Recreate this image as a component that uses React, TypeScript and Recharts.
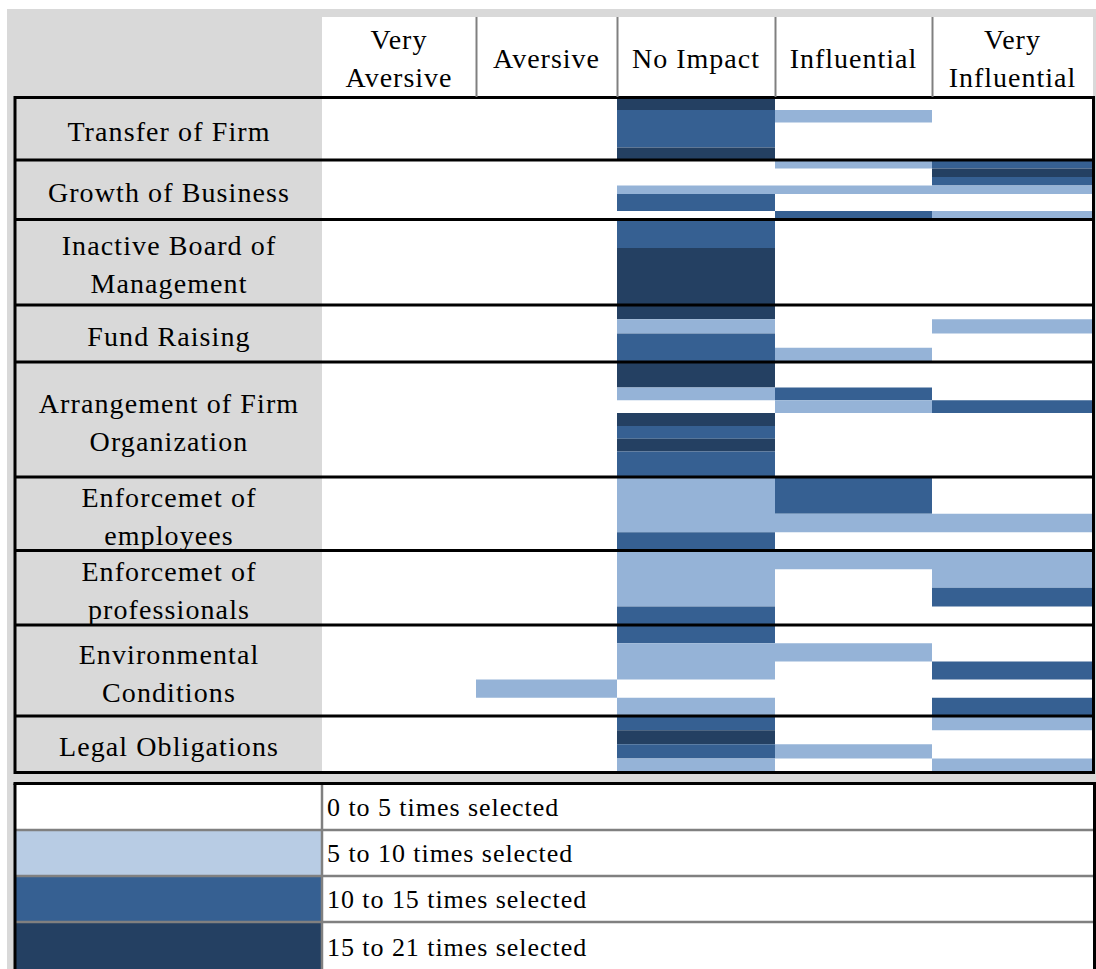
import React from 'react';
import { ComposedChart, XAxis, YAxis, ReferenceArea, ReferenceLine } from 'recharts';

// ---------------- data ----------------
const RATINGS = ['Very Aversive', 'Aversive', 'No Impact', 'Influential', 'Very Influential'];
const FACTORS = [
  'Transfer of Firm',
  'Growth of Business',
  'Inactive Board of Management',
  'Fund Raising',
  'Arrangement of Firm Organization',
  'Enforcemet of employees',
  'Enforcemet of professionals',
  'Environmental Conditions',
  'Legal Obligations',
];
const LEGEND_LABELS = [
  '0 to 5 times selected',
  '5 to 10 times selected',
  '10 to 15 times selected',
  '15 to 21 times selected',
];

// Selection class per item (sub-row) and rating column:
// 0 = 0-5, 1 = 5-10, 2 = 10-15, 3 = 15-21 times selected
const transferOfFirm = [
  [0, 0, 3, 0, 0],
  [0, 0, 2, 1, 0],
  [0, 0, 2, 0, 0],
  [0, 0, 2, 0, 0],
  [0, 0, 3, 0, 0],
];
const growthOfBusiness = [
  [0, 0, 0, 1, 2],
  [0, 0, 0, 0, 3],
  [0, 0, 0, 0, 2],
  [0, 0, 1, 1, 1],
  [0, 0, 2, 0, 0],
  [0, 0, 2, 0, 0],
  [0, 0, 0, 2, 1],
];
const inactiveBoard = [
  [0, 0, 2, 0, 0],
  [0, 0, 3, 0, 0],
  [0, 0, 3, 0, 0],
];
const fundRaising = [
  [0, 0, 3, 0, 0],
  [0, 0, 1, 0, 1],
  [0, 0, 2, 0, 0],
  [0, 0, 2, 1, 0],
];
const arrangementOfFirm = [
  [0, 0, 3, 0, 0],
  [0, 0, 3, 0, 0],
  [0, 0, 1, 2, 0],
  [0, 0, 0, 1, 2],
  [0, 0, 3, 0, 0],
  [0, 0, 2, 0, 0],
  [0, 0, 3, 0, 0],
  [0, 0, 2, 0, 0],
  [0, 0, 2, 0, 0],
];
const enforcementEmployees = [
  [0, 0, 1, 2, 0],
  [0, 0, 1, 2, 0],
  [0, 0, 1, 1, 1],
  [0, 0, 2, 0, 0],
];
const enforcementProfessionals = [
  [0, 0, 1, 1, 1],
  [0, 0, 1, 0, 1],
  [0, 0, 1, 0, 2],
  [0, 0, 2, 0, 0],
];
const environmentalConditions = [
  [0, 0, 2, 0, 0],
  [0, 0, 1, 1, 0],
  [0, 0, 1, 0, 2],
  [0, 1, 0, 0, 0],
  [0, 0, 1, 0, 2],
];
const legalObligations = [
  [0, 0, 2, 0, 1],
  [0, 0, 3, 0, 0],
  [0, 0, 2, 1, 0],
  [0, 0, 1, 0, 1],
];
const FACTOR_LEVELS = [
  transferOfFirm,
  growthOfBusiness,
  inactiveBoard,
  fundRaising,
  arrangementOfFirm,
  enforcementEmployees,
  enforcementProfessionals,
  environmentalConditions,
  legalObligations,
];

// ---------------- style / layout ----------------
const W = 1096;
const H = 969;
const COLORS = ['#ffffff', '#95b3d7', '#366092', '#244062'];
const LEGEND_COLORS = ['#ffffff', '#b8cce4', '#366092', '#244062'];
const BG_GRAY = '#d9d9d9';
const LINE_GRAY = '#808080';
const FONT = "'Liberation Serif', 'Times New Roman', serif";

const BG_ORIGIN = { x: 7, y: 9 };
const LABEL_COL = [16, 322];
const COL_EDGES = [322, 476, 617, 775, 932, 1093];
const HEADER_Y = [17, 97];
const GROUP_EDGES = [97.5, 160, 219.5, 305, 362, 477, 550.5, 625, 716, 772.5];
const TABLE_X = [15, 1093.5];
const LEGEND_TOP = 783.5;
const LEGEND_ROW_EDGES = [785, 830, 876, 922, 972];
const LEGEND_SPLIT = 322;
const LEGEND_X = [15, 1094.5];

const wrap = (s: string, maxChars: number) => {
  const words = s.split(' ');
  const lines: string[] = [];
  let cur = '';
  words.forEach((w) => {
    const next = cur ? cur + ' ' + w : w;
    if (next.length > maxChars && cur) {
      lines.push(cur);
      cur = w;
    } else cur = next;
  });
  if (cur) lines.push(cur);
  return lines;
};

type LabelOpts = {
  fontSize: number;
  lineGap: number;
  anchor: 'middle' | 'start';
  baseline: number;
  dx?: number;
  ls?: number;
};

const makeLabel = (lines: string[], o: LabelOpts) => (props: any) => {
  const vb = props.viewBox || { x: 0, y: 0, width: 0, height: 0 };
  const cx = o.anchor === 'middle' ? vb.x + vb.width / 2 : vb.x + (o.dx || 0);
  const cy = vb.y + vb.height / 2 + o.baseline;
  const n = lines.length;
  return (
    <text
      x={cx}
      y={cy}
      textAnchor={o.anchor}
      fontFamily={FONT}
      fontSize={o.fontSize}
      letterSpacing={o.ls || 0}
      fill="#000"
    >
      {lines.map((l, i) => (
        <tspan key={i} x={cx} y={cy + (i - (n - 1) / 2) * o.lineGap}>
          {l}
        </tspan>
      ))}
    </text>
  );
};

// merge consecutive sub-rows of equal class within one column into runs
const runsOf = (rows: number[][], col: number) => {
  const runs: { start: number; end: number; level: number }[] = [];
  rows.forEach((levels, r) => {
    const lv = levels[col];
    const last = runs[runs.length - 1];
    if (last && last.level === lv && last.end === r) last.end = r + 1;
    else runs.push({ start: r, end: r + 1, level: lv });
  });
  return runs.filter((x) => x.level > 0);
};

export default function App() {
  const cells: React.ReactNode[] = [];
  FACTOR_LEVELS.forEach((rows, g) => {
    const top = GROUP_EDGES[g];
    const bottom = GROUP_EDGES[g + 1];
    const h = (bottom - top) / rows.length;
    RATINGS.forEach((_, c) => {
      runsOf(rows, c).forEach((run, k) => {
        cells.push(
          <ReferenceArea
            key={`c-${g}-${c}-${k}`}
            x1={COL_EDGES[c]}
            x2={COL_EDGES[c + 1]}
            y1={top + run.start * h}
            y2={top + run.end * h}
            fill={COLORS[run.level]}
            fillOpacity={1}
            stroke="none"
            ifOverflow="visible"
          />
        );
      });
    });
  });

  return (
    <div style={{ position: 'absolute', left: 0, top: 0, width: W, height: H, background: '#fff' }}>
      <ComposedChart width={W} height={H} data={[]} margin={{ top: 0, right: 0, bottom: 0, left: 0 }}>
        <XAxis type="number" dataKey="x" domain={[0, W]} hide allowDataOverflow />
        <YAxis type="number" dataKey="y" domain={[0, H]} reversed hide allowDataOverflow />

        {/* gray page background */}
        <ReferenceArea x1={BG_ORIGIN.x} x2={W} y1={BG_ORIGIN.y} y2={H} fill={BG_GRAY} fillOpacity={1} stroke="none" ifOverflow="visible" />

        {/* header cells */}
        {RATINGS.map((r, i) => (
          <ReferenceArea
            key={`h-${i}`}
            x1={COL_EDGES[i]}
            x2={COL_EDGES[i + 1]}
            y1={HEADER_Y[0]}
            y2={HEADER_Y[1]}
            fill="#ffffff"
            fillOpacity={1}
            stroke="none"
            ifOverflow="visible"
            label={makeLabel(wrap(r, 11), { fontSize: 28, lineGap: 37.5, anchor: 'middle', baseline: 11, ls: 1.0 })}
          />
        ))}
        {COL_EDGES.slice(1, -1).map((x, i) => (
          <ReferenceLine
            key={`hl-${i}`}
            segment={[{ x: x + 0.5, y: HEADER_Y[0] }, { x: x + 0.5, y: HEADER_Y[1] }]}
            stroke={LINE_GRAY}
            strokeWidth={2}
            ifOverflow="visible"
          />
        ))}

        {/* data area background */}
        <ReferenceArea x1={COL_EDGES[0]} x2={COL_EDGES[5]} y1={GROUP_EDGES[0]} y2={GROUP_EDGES[9]} fill="#ffffff" fillOpacity={1} stroke="none" ifOverflow="visible" />

        {cells}

        {/* row labels */}
        {FACTORS.map((f, g) => (
          <ReferenceArea
            key={`rl-${g}`}
            x1={LABEL_COL[0]}
            x2={LABEL_COL[1]}
            y1={GROUP_EDGES[g]}
            y2={GROUP_EDGES[g + 1]}
            fill={BG_GRAY}
            fillOpacity={0}
            stroke="none"
            ifOverflow="visible"
            label={makeLabel(wrap(f, 19), { fontSize: 28, lineGap: 38, anchor: 'middle', baseline: 12, ls: 1.1 })}
          />
        ))}

        {/* row separators and table border */}
        {GROUP_EDGES.slice(1, -1).map((y, i) => (
          <ReferenceLine
            key={`rs-${i}`}
            segment={[{ x: TABLE_X[0], y }, { x: TABLE_X[1], y }]}
            stroke="#000"
            strokeWidth={3}
            ifOverflow="visible"
          />
        ))}
        <ReferenceArea
          x1={TABLE_X[0]}
          x2={TABLE_X[1]}
          y1={GROUP_EDGES[0]}
          y2={GROUP_EDGES[9]}
          fill="none"
          fillOpacity={0}
          stroke="#000"
          strokeWidth={3}
          ifOverflow="visible"
        />

        {/* legend */}
        {LEGEND_LABELS.map((l, i) => (
          <ReferenceArea
            key={`ls-${i}`}
            x1={LEGEND_X[0]}
            x2={LEGEND_SPLIT}
            y1={LEGEND_ROW_EDGES[i]}
            y2={LEGEND_ROW_EDGES[i + 1]}
            fill={LEGEND_COLORS[i]}
            fillOpacity={1}
            stroke="none"
            ifOverflow="visible"
          />
        ))}
        {LEGEND_LABELS.map((l, i) => (
          <ReferenceArea
            key={`lt-${i}`}
            x1={LEGEND_SPLIT}
            x2={LEGEND_X[1]}
            y1={LEGEND_ROW_EDGES[i]}
            y2={LEGEND_ROW_EDGES[i + 1]}
            fill="#ffffff"
            fillOpacity={1}
            stroke="none"
            ifOverflow="visible"
            label={makeLabel([l], { fontSize: 26, lineGap: 0, anchor: 'start', baseline: 8.5, dx: 5, ls: 0.95 })}
          />
        ))}
        {LEGEND_ROW_EDGES.slice(1, -1).map((y, i) => (
          <ReferenceLine
            key={`lg-${i}`}
            segment={[{ x: LEGEND_X[0], y }, { x: LEGEND_X[1], y }]}
            stroke={LINE_GRAY}
            strokeWidth={2.5}
            ifOverflow="visible"
          />
        ))}
        <ReferenceLine
          segment={[{ x: LEGEND_SPLIT, y: LEGEND_ROW_EDGES[0] }, { x: LEGEND_SPLIT, y: H }]}
          stroke={LINE_GRAY}
          strokeWidth={2.5}
          ifOverflow="visible"
        />
        <ReferenceLine
          segment={[{ x: LEGEND_X[0] - 1.5, y: LEGEND_TOP }, { x: W, y: LEGEND_TOP }]}
          stroke="#000"
          strokeWidth={3}
          ifOverflow="visible"
        />
        <ReferenceLine
          segment={[{ x: LEGEND_X[0], y: LEGEND_TOP }, { x: LEGEND_X[0], y: H }]}
          stroke="#000"
          strokeWidth={3}
          ifOverflow="visible"
        />
        <ReferenceLine
          segment={[{ x: LEGEND_X[1], y: LEGEND_TOP }, { x: LEGEND_X[1], y: H }]}
          stroke="#000"
          strokeWidth={3}
          ifOverflow="visible"
        />
      </ComposedChart>
    </div>
  );
}
